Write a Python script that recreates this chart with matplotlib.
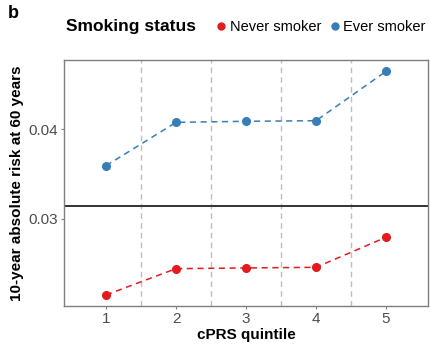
import matplotlib.pyplot as plt
from matplotlib.lines import Line2D
from matplotlib.offsetbox import HPacker

plt.rcParams['font.family'] = ['Liberation Sans', 'DejaVu Sans']

quintiles = [1, 2, 3, 4, 5]
never_smoker = [0.02156, 0.02448, 0.02456, 0.02463, 0.02797]
ever_smoker = [0.03592, 0.04074, 0.04086, 0.04092, 0.04641]
overall_risk = 0.03148
boundaries = [1.5, 2.5, 3.5, 4.5]

red = '#E41A1C'
blue = '#377EB8'
grey_text = '#4D4D4D'

fig = plt.figure(figsize=(4.3, 3.44), dpi=100)
ax = fig.add_axes([64 / 430, 1 - 306 / 344, (428 - 64) / 430, (306 - 60) / 344])

for b in boundaries:
    ax.axvline(b, color='#BEBEBE', linestyle=(0, (4, 3)), linewidth=1.0, zorder=1)
ax.axhline(overall_risk, color='#333333', linewidth=1.4, zorder=2)

ax.plot(quintiles, never_smoker, color=red, linestyle=(0, (4, 3)), linewidth=1.1,
        marker='o', markersize=5.5, zorder=3)
ax.plot(quintiles, ever_smoker, color=blue, linestyle=(0, (4, 3)), linewidth=1.1,
        marker='o', markersize=5.5, zorder=3)

ax.set_xlim(0.4, 5.6)
ax.set_ylim(0.02033, 0.04767)
ax.set_xticks(quintiles)
ax.set_yticks([0.03, 0.04])
ax.set_yticklabels(['0.03', '0.04'])

for s in ax.spines.values():
    s.set_color('#7F7F7F')
    s.set_linewidth(1.0)
ax.tick_params(colors='#7F7F7F', labelcolor=grey_text, labelsize=11, length=2.5, width=0.8, pad=2)

ax.set_xlabel('cPRS quintile', fontsize=11, fontweight='bold', labelpad=1)
ax.set_ylabel('10-year absolute risk at 60 years', fontsize=11, fontweight='bold', labelpad=3)

fig.text(8 / 430, 1 - 14 / 344, 'b', fontsize=13, fontweight='bold', va='center', ha='left')

handles = [
    Line2D([], [], color=red, marker='o', linestyle='none', markersize=5),
    Line2D([], [], color=blue, marker='o', linestyle='none', markersize=5),
]
leg = fig.legend(handles, ['Never smoker', 'Ever smoker'], title='Smoking status',
                 loc='center left', bbox_to_anchor=(66 / 430, 1 - 27 / 344), ncol=2,
                 frameon=False, fontsize=10.5, handletextpad=0.1, columnspacing=0.4,
                 handlelength=1.0, borderpad=0.0, borderaxespad=0.0)
leg.get_title().set_fontweight('bold')
leg.get_title().set_fontsize(12.5)
# title sits to the left of the entries on one row
title_box = leg._legend_title_box
entries = leg._legend_handle_box
leg._legend_box._children = [HPacker(pad=0, sep=13, children=[title_box, entries], align='center')]

fig.savefig('out.png', dpi=100)
